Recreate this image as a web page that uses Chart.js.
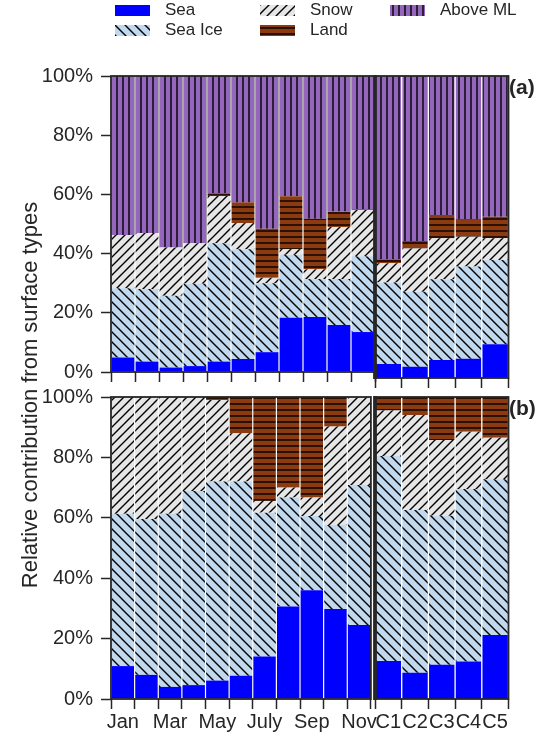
<!DOCTYPE html>
<html>
<head>
<meta charset="utf-8">
<script src="https://cdn.jsdelivr.net/npm/chart.js@4.4.0/dist/chart.umd.min.js"></script>
<style>
  body { margin: 0; background: #fff; font-family: 'Liberation Sans', Arial, sans-serif; color: #262626; }
  #wrap { position: relative; width: 539px; height: 734px; overflow: hidden; }
  canvas.c { position: absolute; }
  .sw { position: absolute; width: 35px; height: 11px; }
  .lt { position: absolute; font-size: 17px; line-height: 20px; }
  .pl { position: absolute; font-size: 21px; font-weight: bold; }
  #ytitle { position: absolute; width: 440px; text-align: center; font-size: 22px; line-height: 26px;
            left: 30px; top: 395px; transform: translate(-50%, -50%) rotate(-90deg); white-space: nowrap; }
</style>
</head>
<body>
<div id="wrap">
  <canvas id="aMon" class="c"></canvas>
  <canvas id="aClu" class="c"></canvas>
  <canvas id="bMon" class="c"></canvas>
  <canvas id="bClu" class="c"></canvas>
  <div id="legend"></div>
  <div class="pl" style="left:509px;top:75px">(a)</div>
  <div class="pl" style="left:509px;top:396px">(b)</div>
  <div id="ytitle">Relative contribution from surface types</div>
</div>
<script>
// ==================== DATA ====================
const monthTicks = ['Jan', '', 'Mar', '', 'May', '', 'July', '', 'Sep', '', 'Nov'];
const clusterTicks = ['C1', 'C2', 'C3', 'C4', 'C5'];
const yTicks = [0, 20, 40, 60, 80, 100];

// panel (a): 11 months then 5 clusters, percent
const aSea     = [4.9, 3.5, 1.5, 2.0, 3.5, 4.4, 6.7, 18.3, 18.6, 15.9, 13.5, 4.6, 3.7, 6.0, 6.4, 11.2];
const aSeaIce  = [23.4, 24.5, 24.3, 27.9, 40.0, 37.1, 23.3, 21.3, 12.8, 15.5, 25.6, 27.0, 24.9, 26.7, 30.5, 27.9];
const aSnow    = [18.0, 19.0, 16.3, 13.6, 16.0, 8.8, 1.8, 1.9, 3.3, 17.6, 15.6, 6.4, 14.3, 13.6, 9.9, 7.2];
const aLand    = [0, 0, 0, 0, 0.9, 7.0, 16.6, 17.9, 17.1, 5.2, 0.3, 1.3, 2.5, 7.7, 5.8, 7.1];
const aAboveML = [53.7, 53.0, 57.9, 56.5, 39.6, 42.7, 51.6, 40.6, 48.2, 45.8, 45.0, 60.7, 54.6, 46.0, 47.4, 46.6];

// panel (b)
const bSea     = [10.9, 8.0, 4.0, 4.6, 6.1, 7.7, 14.1, 30.6, 36.0, 29.8, 24.5, 12.6, 8.7, 11.3, 12.4, 21.2];
const bSeaIce  = [50.4, 51.6, 57.3, 64.3, 65.9, 64.3, 47.6, 36.1, 24.6, 27.8, 46.4, 67.9, 53.9, 49.4, 57.1, 51.6];
const bSnow    = [38.7, 40.4, 38.7, 31.1, 27.0, 16.0, 3.9, 3.3, 6.1, 32.6, 29.1, 15.0, 31.4, 25.1, 19.0, 13.7];
const bLand    = [0, 0, 0, 0, 1.0, 12.0, 34.4, 30.0, 33.3, 9.8, 0, 4.5, 6.0, 14.2, 11.5, 13.5];
const bAboveML = [0, 0, 0, 0, 0, 0, 0, 0, 0, 0, 0, 0, 0, 0, 0, 0];

const seriesNames = ['Sea', 'Sea Ice', 'Snow', 'Land', 'Above ML'];

// ==================== STYLE ====================
const INK = '#262626';
const FONT = "'Liberation Sans', Arial, sans-serif";
const nMonths = monthTicks.length;

function hatch(bg, kind, s) {
  const c = document.createElement('canvas');
  c.width = c.height = s;
  const g = c.getContext('2d');
  g.fillStyle = bg; g.fillRect(0, 0, s, s);
  if (kind) {
    g.strokeStyle = '#000'; g.lineWidth = 1.4; g.beginPath();
    if (kind === '/') {
      g.moveTo(0, s); g.lineTo(s, 0);
      g.moveTo(-1, 1); g.lineTo(1, -1);
      g.moveTo(s - 1, s + 1); g.lineTo(s + 1, s - 1);
    } else if (kind === '\\') {
      g.moveTo(0, 0); g.lineTo(s, s);
      g.moveTo(s - 1, -1); g.lineTo(s + 1, 1);
      g.moveTo(-1, s - 1); g.lineTo(1, s + 1);
    } else if (kind === '|') {
      g.moveTo(s / 2, 0); g.lineTo(s / 2, s);
    } else if (kind === '-') {
      g.moveTo(0, s / 2); g.lineTo(s, s / 2);
    }
    g.stroke();
  }
  return document.createElement('canvas').getContext('2d').createPattern(c, 'repeat');
}

const fills = [
  hatch('#0000ff', null, 4),
  hatch('#c1d9ef', '\\', 10),
  hatch('#e6e6e6', '/', 9),
  hatch('#8b3b0f', '-', 6),
  hatch('#9467bd', '|', 6)
];

// frame round the plot area, thick separator on the cluster side
const framePlugin = {
  id: 'frame',
  afterDatasetsDraw(chart, args, o) {
    const { ctx, chartArea: a } = chart;
    ctx.save();
    ctx.strokeStyle = INK;
    ctx.lineWidth = 1.8;
    ctx.strokeRect(a.left, a.top, a.right - a.left, a.bottom - a.top);
    if (o.sep) {
      ctx.lineWidth = 3.8;
      ctx.beginPath();
      ctx.moveTo(a.left, a.top - 0.9);
      ctx.lineTo(a.left, a.bottom + 0.9);
      ctx.stroke();
    }
    ctx.restore();
  }
};

function makeChart(id, left, top, w, h, labels, series, opt) {
  const cv = document.getElementById(id);
  cv.width = w; cv.height = h;
  cv.style.left = left + 'px'; cv.style.top = top + 'px';
  const gridOpts = { drawOnChartArea: false, drawTicks: true, tickLength: 10, tickColor: INK, tickWidth: 1.5 };
  const yScale = {
    display: opt.yAxis, stacked: true, min: 0, max: 100,
    afterBuildTicks: s => { s.ticks = yTicks.map(v => ({ value: v })); },
    ticks: { callback: v => v + '%', padding: 8, color: INK, font: { family: FONT, size: 20 } },
    grid: gridOpts, border: { display: false }
  };
  if (opt.yAxis) yScale.afterFit = s => { s.width = 111; };
  return new Chart(cv, {
    type: 'bar',
    data: {
      labels: labels,
      datasets: series.map((d, i) => ({
        label: seriesNames[i],
        data: d,
        backgroundColor: fills[i],
        borderWidth: 0,
        barPercentage: 0.95,
        categoryPercentage: 1.0
      }))
    },
    options: {
      responsive: false,
      animation: false,
      layout: { padding: opt.pad },
      plugins: { legend: { display: false }, tooltip: { enabled: false }, frame: { sep: opt.sep } },
      scales: {
        x: {
          stacked: true,
          grid: gridOpts,
          border: { display: false },
          ticks: { display: opt.xLabels, autoSkip: false, maxRotation: 0, minRotation: 0, padding: 1,
                   color: INK, font: { family: FONT, size: 20 } },
          afterFit: s => { s.height = opt.xh; }
        },
        y: yScale
      }
    },
    plugins: [framePlugin]
  });
}

function split(arrs, from, to) { return arrs.map(a => a.slice(from, to)); }

const panelA = [aSea, aSeaIce, aSnow, aLand, aAboveML];
const panelB = [bSea, bSeaIce, bSnow, bLand, bAboveML];

makeChart('aMon', 0, 0, 378, 392, monthTicks, split(panelA, 0, nMonths),
  { yAxis: true, xLabels: false, xh: 14, sep: false, pad: { top: 76, right: 3, left: 0, bottom: 0 } });
makeChart('aClu', 372, 0, 167, 392, clusterTicks, split(panelA, nMonths),
  { yAxis: false, xLabels: false, xh: 14, sep: true, pad: { top: 76, right: 30.5, left: 3, bottom: 0 } });
makeChart('bMon', 0, 377, 378, 357, monthTicks, split(panelB, 0, nMonths),
  { yAxis: true, xLabels: true, xh: 35, sep: false, pad: { top: 20, right: 3, left: 0, bottom: 0 } });
makeChart('bClu', 372, 377, 167, 357, clusterTicks, split(panelB, nMonths),
  { yAxis: false, xLabels: true, xh: 35, sep: true, pad: { top: 20, right: 30.5, left: 3, bottom: 0 } });

// ==================== LEGEND ====================
const legendSpots = [
  { x: 115, y: 10 }, { x: 115, y: 30 }, { x: 260, y: 10 }, { x: 260, y: 30 }, { x: 390, y: 10 }
];
const legendEl = document.getElementById('legend');
seriesNames.forEach((name, i) => {
  const p = legendSpots[i];
  const sw = document.createElement('canvas');
  sw.className = 'sw'; sw.width = 35; sw.height = 11;
  sw.style.left = p.x + 'px'; sw.style.top = (p.y - 5.5) + 'px';
  const g = sw.getContext('2d');
  g.fillStyle = fills[i]; g.fillRect(0, 0, 35, 11);
  legendEl.appendChild(sw);
  const t = document.createElement('div');
  t.className = 'lt'; t.textContent = name;
  t.style.left = (p.x + 50) + 'px'; t.style.top = (p.y - 10) + 'px';
  legendEl.appendChild(t);
});
</script>
</body>
</html>
